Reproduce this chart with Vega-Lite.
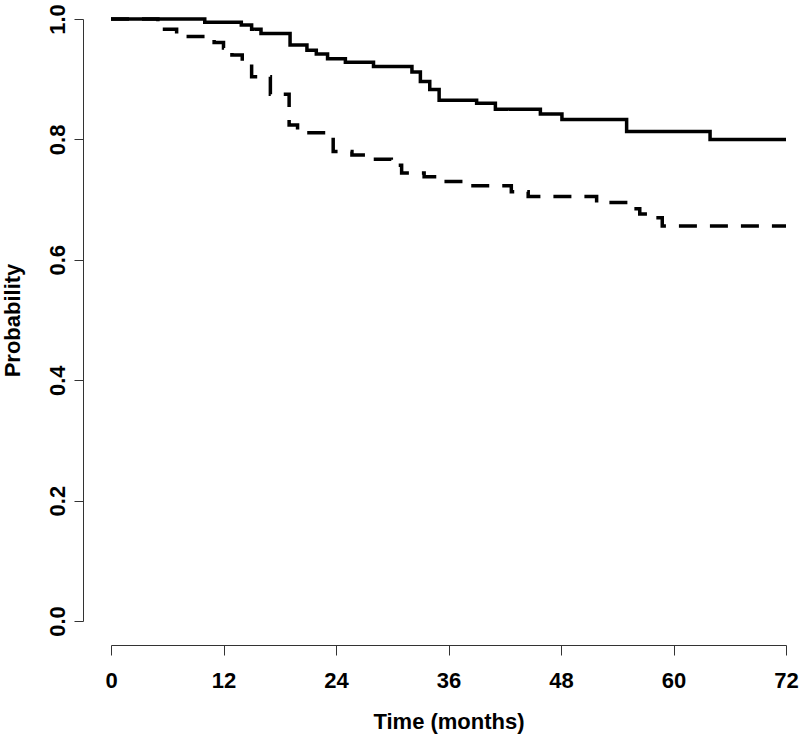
{
  "$schema": "https://vega.github.io/schema/vega-lite/v6.json",
  "autosize": {"type": "none"},
  "padding": {"left": 111, "top": 19, "right": 14, "bottom": 119},
  "width": 675,
  "height": 602,
  "background": "white",
  "config": {"view": {"stroke": null}, "font": "Liberation Sans"},
  "data": {"values": [
    {"t": 0, "p": 1.0, "g": "A"},
    {"t": 10, "p": 0.9945, "g": "A"},
    {"t": 13.9, "p": 0.99, "g": "A"},
    {"t": 15, "p": 0.983, "g": "A"},
    {"t": 16, "p": 0.976, "g": "A"},
    {"t": 19.1, "p": 0.957, "g": "A"},
    {"t": 20.9, "p": 0.948, "g": "A"},
    {"t": 21.9, "p": 0.942, "g": "A"},
    {"t": 23.1, "p": 0.934, "g": "A"},
    {"t": 25, "p": 0.928, "g": "A"},
    {"t": 28, "p": 0.921, "g": "A"},
    {"t": 32.1, "p": 0.912, "g": "A"},
    {"t": 33, "p": 0.896, "g": "A"},
    {"t": 34, "p": 0.883, "g": "A"},
    {"t": 35, "p": 0.865, "g": "A"},
    {"t": 39, "p": 0.86, "g": "A"},
    {"t": 41, "p": 0.85, "g": "A"},
    {"t": 45.8, "p": 0.842, "g": "A"},
    {"t": 48.1, "p": 0.833, "g": "A"},
    {"t": 55, "p": 0.813, "g": "A"},
    {"t": 63.9, "p": 0.8, "g": "A"},
    {"t": 72, "p": 0.8, "g": "A"},
    {"t": 0, "p": 1.0, "g": "B"},
    {"t": 5, "p": 0.983, "g": "B"},
    {"t": 7, "p": 0.971, "g": "B"},
    {"t": 11, "p": 0.961, "g": "B"},
    {"t": 12, "p": 0.952, "g": "B"},
    {"t": 12.9, "p": 0.94, "g": "B"},
    {"t": 14, "p": 0.929, "g": "B"},
    {"t": 15, "p": 0.904, "g": "B"},
    {"t": 17, "p": 0.875, "g": "B"},
    {"t": 19, "p": 0.824, "g": "B"},
    {"t": 19.9, "p": 0.811, "g": "B"},
    {"t": 23.7, "p": 0.78, "g": "B"},
    {"t": 25.7, "p": 0.774, "g": "B"},
    {"t": 27.1, "p": 0.767, "g": "B"},
    {"t": 29.9, "p": 0.757, "g": "B"},
    {"t": 31, "p": 0.744, "g": "B"},
    {"t": 33.4, "p": 0.738, "g": "B"},
    {"t": 34.9, "p": 0.73, "g": "B"},
    {"t": 37.9, "p": 0.723, "g": "B"},
    {"t": 42.7, "p": 0.713, "g": "B"},
    {"t": 44.5, "p": 0.705, "g": "B"},
    {"t": 51.8, "p": 0.695, "g": "B"},
    {"t": 55.2, "p": 0.685, "g": "B"},
    {"t": 56.4, "p": 0.676, "g": "B"},
    {"t": 58, "p": 0.67, "g": "B"},
    {"t": 58.8, "p": 0.656, "g": "B"},
    {"t": 72, "p": 0.656, "g": "B"}
  ]},
  "mark": {"type": "line", "interpolate": "step-after", "color": "black", "strokeWidth": 3.5, "clip": false},
  "encoding": {
    "x": {
      "field": "t", "type": "quantitative",
      "scale": {"domain": [0, 72], "nice": false, "zero": false},
      "axis": {
        "title": "Time (months)", "values": [0, 12, 24, 36, 48, 60, 72],
        "grid": false, "offset": 24, "tickSize": 10, "domainColor": "#333", "tickColor": "#333",
        "domainWidth": 1, "tickWidth": 1,
        "labelFont": "Liberation Sans", "labelFontWeight": "bold", "labelFontSize": 22, "labelColor": "black",
        "labelPadding": 15, "labelFlush": false,
        "titleFont": "Liberation Sans", "titleFontWeight": "bold", "titleFontSize": 22, "titleColor": "black",
        "titlePadding": 20
      }
    },
    "y": {
      "field": "p", "type": "quantitative",
      "scale": {"domain": [0, 1], "nice": false, "zero": false},
      "axis": {
        "title": "Probability", "values": [0, 0.2, 0.4, 0.6, 0.8, 1.0], "format": ".1f",
        "grid": false, "offset": 28, "tickSize": 9, "domainColor": "#333", "tickColor": "#333",
        "domainWidth": 1, "tickWidth": 1,
        "labelFont": "Liberation Sans", "labelFontWeight": "bold", "labelFontSize": 22, "labelColor": "black",
        "labelAngle": -90, "labelAlign": "center", "labelBaseline": "alphabetic", "labelPadding": 10, "labelFlush": false,
        "titleFont": "Liberation Sans", "titleFontWeight": "bold", "titleFontSize": 22, "titleColor": "black",
        "titlePadding": 22
      }
    },
    "strokeDash": {
      "field": "g", "type": "nominal",
      "scale": {"domain": ["A", "B"], "range": [[1, 0], [18, 13]]},
      "legend": null
    }
  }
}
